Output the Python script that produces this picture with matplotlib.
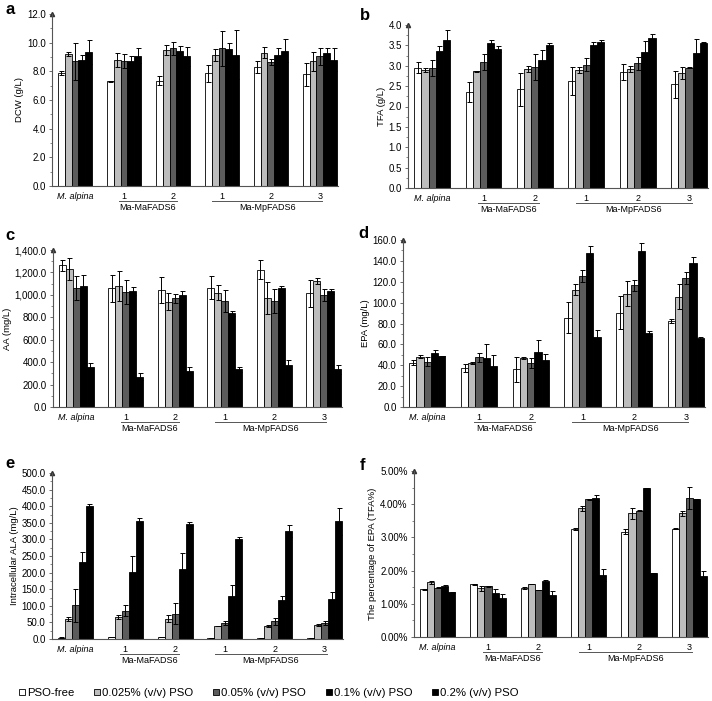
import matplotlib
matplotlib.use("Agg")
import matplotlib.pyplot as plt
from matplotlib.ticker import MultipleLocator, FuncFormatter
from matplotlib.transforms import offset_copy
import numpy as np

plt.rcParams['font.family'] = ['Liberation Sans', 'DejaVu Sans']

treatments = ['PSO-free', '0.025% (v/v) PSO', '0.05% (v/v) PSO', '0.1% (v/v) PSO', '0.2% (v/v) PSO']
colors = ['white', '#bdbdbd', '#5c5c5c', 'black', 'black']
strain_ticks = ['M. alpina', '1', '2', '1', '2', '3']

# rows = strains (M. alpina, MaFADS6-1, -2, MpFADS6-1, -2, -3), cols = treatments
dcw = [[7.9, 9.2, 8.7, 8.8, 9.35], [7.3, 8.8, 8.7, 8.75, 9.1], [7.35, 9.5, 9.6, 9.4, 9.05],
       [7.85, 9.15, 9.6, 9.55, 9.15], [8.3, 9.3, 8.65, 9.15, 9.45], [7.8, 8.7, 9.05, 9.25, 8.8]]
dcw_err = [[0.15, 0.15, 1.3, 0.35, 0.85], [0.05, 0.5, 0.5, 0.3, 0.55], [0.3, 0.35, 0.45, 0.4, 0.65],
           [0.6, 0.4, 1.2, 0.45, 1.7], [0.4, 0.4, 0.2, 0.45, 0.8], [0.8, 0.65, 0.6, 0.35, 0.8]]

tfa = [[2.95, 2.9, 2.95, 3.37, 3.62], [2.35, 2.86, 3.1, 3.55, 3.41], [2.42, 2.92, 2.97, 3.14, 3.51],
       [2.63, 2.89, 3.03, 3.52, 3.59], [2.85, 2.92, 3.06, 3.34, 3.67], [2.54, 2.82, 2.95, 3.32, 3.57]]
tfa_err = [[0.14, 0.05, 0.2, 0.12, 0.25], [0.24, 0.02, 0.2, 0.08, 0.07], [0.4, 0.08, 0.33, 0.25, 0.06],
           [0.34, 0.08, 0.17, 0.06, 0.03], [0.2, 0.07, 0.16, 0.27, 0.11], [0.32, 0.15, 0.01, 0.33, 0.01]]

aa = [[1265, 1230, 1060, 1075, 355], [1060, 1080, 1025, 1035, 270], [1045, 940, 970, 995, 320],
      [1065, 1020, 945, 835, 335], [1225, 970, 945, 1060, 375], [1015, 1125, 1000, 1030, 335]]
aa_err = [[50, 100, 110, 105, 40], [120, 135, 105, 35, 30], [115, 75, 40, 40, 40],
          [105, 70, 100, 20, 20], [85, 145, 110, 15, 40], [120, 25, 55, 20, 40]]

epa = [[42.5, 48, 43.5, 51.5, 49], [37.5, 42.5, 47.5, 46.5, 39.5], [36, 47, 42, 53, 45],
       [85.5, 112.5, 125.5, 148, 67], [90.5, 108.5, 116.5, 149.5, 70.5], [82.5, 105.5, 123.5, 138, 66]]
epa_err = [[2.5, 1.5, 4, 3.5, 0.3], [3.5, 1, 4, 14, 10], [12, 1, 5, 11, 6],
           [15, 5, 6, 6.5, 7], [16, 12, 5.5, 7.5, 2], [2, 12, 6, 6, 1]]

ala = [[4, 60, 102, 232, 401], [6, 65, 85, 202, 355], [6, 61, 76, 212, 345],
       [3, 39, 48, 129, 302], [3, 39, 53, 116, 325], [3, 42, 49, 121, 354]]
ala_err = [[1, 7, 50, 30, 6], [1, 6, 16, 47, 8], [1, 10, 31, 47, 8],
           [0.5, 1, 6, 35, 6], [0.5, 2, 11, 13, 19], [0.5, 4, 6, 22, 40]]

epa_pct = [[1.44, 1.65, 1.49, 1.54, 1.35], [1.59, 1.47, 1.53, 1.33, 1.16], [1.49, 1.60, 1.42, 1.69, 1.28],
           [3.26, 3.88, 4.15, 4.19, 1.86], [3.17, 3.72, 3.81, 4.49, 1.93], [3.26, 3.73, 4.18, 4.16, 1.85]]
epa_pct_err = [[0.02, 0.04, 0.02, 0.02, 0.01], [0.01, 0.07, 0.01, 0.13, 0.13], [0.03, 0.01, 0.01, 0.03, 0.1],
               [0.03, 0.07, 0.02, 0.1, 0.18], [0.07, 0.17, 0.02, 0.01, 0.01], [0.01, 0.08, 0.33, 0.01, 0.15]]

W, H = 712, 701
fig = plt.figure(figsize=(W / 100, H / 100), dpi=100)


def px(l, r, b, t):
    return [l / W, 1 - b / H, (r - l) / W, (b - t) / H]


panels = [
    ('a', px(52, 338, 186, 14), dcw, dcw_err, 'DCW (g/L)', 12, 2, 1, lambda v, p: f'{v:.1f}', (5, 10)),
    ('b', px(408, 708, 188, 25), tfa, tfa_err, 'TFA (g/L)', 4, 0.5, 0.25, lambda v, p: f'{v:.1f}', (360, 15)),
    ('c', px(53, 342, 407, 250), aa, aa_err, 'AA (mg/L)', 1400, 200, 100, lambda v, p: f'{v:,.1f}', (5, 236)),
    ('d', px(403, 705, 407, 240), epa, epa_err, 'EPA (mg/L)', 160, 20, 10, lambda v, p: f'{v:.1f}', (358, 233)),
    ('e', px(52, 343, 639, 473), ala, ala_err, 'Intracellular ALA (mg/L)', 500, 50, 25, lambda v, p: f'{v:.1f}', (5, 463)),
    ('f', px(414, 708, 637, 471), epa_pct, epa_pct_err, 'The percentage of EPA (TFA%)', 5, 1, 0.5, lambda v, p: f'{v:.2f}%', (360, 465)),
]

bw = 0.14
x = np.arange(6)
bars = []
for letter, rect, vals, errs, ylabel, ymax, major, minor, fmt, lpos in panels:
    ax = fig.add_axes(rect)
    vals = np.array(vals)
    errs = np.array(errs)
    bars = []
    for j in range(5):
        xs = x + (j - 2) * bw
        b = ax.bar(xs, vals[:, j], width=bw, color=colors[j], edgecolor='black', linewidth=0.6, zorder=2)
        bars.append(b)
        ax.errorbar(xs, vals[:, j], yerr=errs[:, j], fmt='none', ecolor='black',
                    elinewidth=0.7, capsize=1.8, capthick=0.7, zorder=3)
    ax.set_xlim(-0.47, 5.37)
    ax.set_ylim(0, ymax)
    ax.yaxis.set_major_locator(MultipleLocator(major))
    ax.yaxis.set_minor_locator(MultipleLocator(minor))
    ax.yaxis.set_major_formatter(FuncFormatter(fmt))
    ax.tick_params(axis='y', labelsize=7, length=2.5, width=0.6, pad=2, color='#555555')
    ax.tick_params(axis='y', which='minor', length=1.5, width=0.5, color='#555555')
    ax.set_xticks([])
    for s in ['top', 'right']:
        ax.spines[s].set_visible(False)
    for s in ['left', 'bottom']:
        ax.spines[s].set_color('#555555')
        ax.spines[s].set_linewidth(0.8)
    ax.plot([0], [1], marker='^', ms=3, color='#333333', transform=ax.transAxes, clip_on=False)
    ax.set_ylabel(ylabel, fontsize=6.8, labelpad=2)

    # strain labels under the axis
    tr = ('data', 'axes fraction')
    for i, lab in enumerate(strain_ticks):
        ax.annotate(lab, xy=(x[i], 0), xycoords=tr, xytext=(0, -7.5), textcoords='offset points',
                    ha='center', va='center', fontsize=6.5, style='italic' if i == 0 else 'normal')
    for lo, hi, name in [(0.9, 2.08, 'Ma-MaFADS6'), (2.8, 5.05, 'Ma-MpFADS6')]:
        t = offset_copy(ax.get_xaxis_transform(), fig=fig, x=0, y=-10.8, units='points')
        ax.plot([lo, hi], [0, 0], transform=t, color='#555555', lw=0.7, clip_on=False)
        ax.annotate(name, xy=((lo + hi) / 2, 0), xycoords=tr, xytext=(0, -15.5), textcoords='offset points',
                    ha='center', va='center', fontsize=6.5)

    fig.text(lpos[0] / W, 1 - lpos[1] / H, letter, fontsize=12, fontweight='bold', va='center', ha='left')

fig.legend(bars, treatments, loc='center left', bbox_to_anchor=(19 / W, 1 - 693 / H), ncol=5,
           frameon=False, fontsize=8.2, handlelength=0.5, handleheight=0.5, handletextpad=0.2,
           columnspacing=1.75, borderaxespad=0, borderpad=0)

fig.savefig('out.png', dpi=100)
